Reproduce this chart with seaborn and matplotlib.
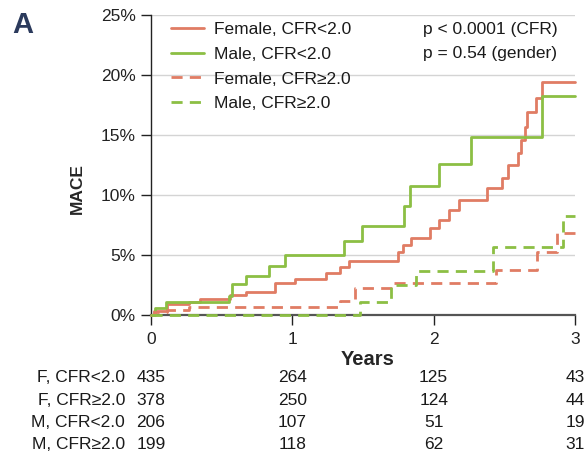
import matplotlib
matplotlib.use("Agg")
import matplotlib.pyplot as plt
import matplotlib.transforms as mtransforms
from matplotlib.ticker import PercentFormatter
import numpy as np
import pandas as pd
import seaborn as sns

# cumulative MACE (%), step points (years)
f_lo_t = [0, 0.02, 0.11, 0.27, 0.35, 0.56, 0.675, 0.88, 1.016, 1.236, 1.335, 1.40, 1.745, 1.78, 1.84,
          1.977, 2.04, 2.11, 2.18, 2.38, 2.48, 2.526, 2.597, 2.62, 2.644, 2.66, 2.727, 2.763, 3.0]
f_lo_v = [0, 0.33, 0.89, 1.1, 1.3, 1.67, 1.94, 2.69, 3.0, 3.47, 4.03, 4.5, 5.22, 5.83, 6.39,
          7.22, 7.92, 8.75, 9.58, 10.56, 11.39, 12.5, 13.47, 14.58, 15.7, 16.94, 18.06, 19.39, 19.39]

m_lo_t = [0, 0.03, 0.107, 0.55, 0.573, 0.675, 0.833, 0.945, 1.366, 1.496, 1.79, 1.83, 2.04, 2.266, 2.763, 3.0]
m_lo_v = [0, 0.56, 1.06, 1.6, 2.56, 3.28, 4.11, 5.0, 6.17, 7.44, 9.08, 10.75, 12.58, 14.86, 18.27, 18.27]

f_hi_t = [0, 0.02, 0.11, 0.27, 1.34, 1.44, 1.71, 2.44, 2.73, 2.87, 3.0]
f_hi_v = [0, 0.28, 0.45, 0.69, 1.14, 2.28, 2.67, 3.75, 5.25, 6.8, 6.8]

m_hi_t = [0, 1.48, 1.70, 1.875, 2.42, 2.917, 3.0]
m_hi_v = [0, 1.11, 2.5, 3.67, 5.65, 8.27, 8.27]

groups = ["Female, CFR<2.0", "Male, CFR<2.0", "Female, CFR\u22652.0", "Male, CFR\u22652.0"]
curves = [(f_lo_t, f_lo_v), (m_lo_t, m_lo_v), (f_hi_t, f_hi_v), (m_hi_t, m_hi_v)]

# number at risk table
risk_labels = ["F, CFR<2.0", "F, CFR\u22652.0", "M, CFR<2.0", "M, CFR\u22652.0"]
risk_years = [0, 1, 2, 3]
risk_f_lo = [435, 264, 125, 43]
risk_f_hi = [378, 250, 124, 44]
risk_m_lo = [206, 107, 51, 19]
risk_m_hi = [199, 118, 62, 31]
risk_rows = [risk_f_lo, risk_f_hi, risk_m_lo, risk_m_hi]

red = "#E07C64"
green = "#8CBF44"
colors = [red, green, red, green]
styles = ["-", "-", (0, (4, 2.6)), (0, (4, 2.6))]

sns.set_theme(style="white")
plt.rcParams["font.family"] = ["Liberation Sans", "DejaVu Sans"]
plt.rcParams["text.color"] = "#1a1a1a"

fig = plt.figure(figsize=(5.84, 4.57), dpi=100)
ax = fig.add_axes([151 / 584, 1 - 315 / 457, 424 / 584, 300 / 457])

for g, (t, v), c, ls in zip(groups, curves, colors, styles):
    df = pd.DataFrame({"Years": t, "MACE": v})
    sns.lineplot(data=df, x="Years", y="MACE", ax=ax, color=c, linestyle=ls, lw=2.0,
                 drawstyle="steps-post", estimator=None, sort=False, label=g, zorder=5, clip_on=False)

ax.set_xlim(0, 3)
ax.set_ylim(0, 25)
ax.set_xticks([0, 1, 2, 3])
ax.set_yticks([0, 5, 10, 15, 20, 25])
ax.yaxis.set_major_formatter(PercentFormatter(xmax=100, decimals=0))
ax.grid(axis="y", color="#d4d4d4", lw=1)
ax.grid(axis="x", visible=False)
for s in ["top", "right"]:
    ax.spines[s].set_visible(False)
ax.spines["left"].set_color("#222222")
ax.spines["left"].set_linewidth(1)
ax.spines["bottom"].set_color("#555555")
ax.spines["bottom"].set_linewidth(1.6)
ax.tick_params(axis="both", labelsize=12.5, colors="#222222", direction="out", length=7, width=1, pad=4)
ax.tick_params(axis="x", pad=5)
ax.tick_params(left=True, bottom=True)

ax.set_xlabel("Years", fontsize=14.5, fontweight="bold")
ax.xaxis.set_label_coords(0.51, -0.118)
ax.set_ylabel("MACE", fontsize=12.5, fontweight="bold")
ax.yaxis.set_label_coords(-0.155, 0.423)

handles, labels = ax.get_legend_handles_labels()
ax.legend(handles, labels, loc="upper left", bbox_to_anchor=(0.048, 0.978), frameon=False,
          fontsize=12.5, handlelength=1.9, handletextpad=0.55, labelspacing=0.56,
          borderpad=0, borderaxespad=0)

ax.text(0.642, 0.953, "p < 0.0001 (CFR)", transform=ax.transAxes, fontsize=12.5, va="center")
ax.text(0.642, 0.873, "p = 0.54 (gender)", transform=ax.transAxes, fontsize=12.5, va="center")

# risk table under the axis
trans = mtransforms.blended_transform_factory(ax.transData, ax.transAxes)
row_y = [-0.21, -0.284, -0.358, -0.432]
for lab, counts, y in zip(risk_labels, risk_rows, row_y):
    ax.text(-0.061, y, lab, transform=ax.transAxes, ha="right", va="center", fontsize=12.5, clip_on=False)
    for yr, n in zip(risk_years, counts):
        ax.text(yr, y, str(n), transform=trans, ha="center", va="center", fontsize=12.5, clip_on=False)

fig.text(12 / 584, 1 - 25 / 457, "A", fontsize=21, fontweight="bold", color="#2B3A5C", va="center")

fig.savefig("out.png", dpi=100)
